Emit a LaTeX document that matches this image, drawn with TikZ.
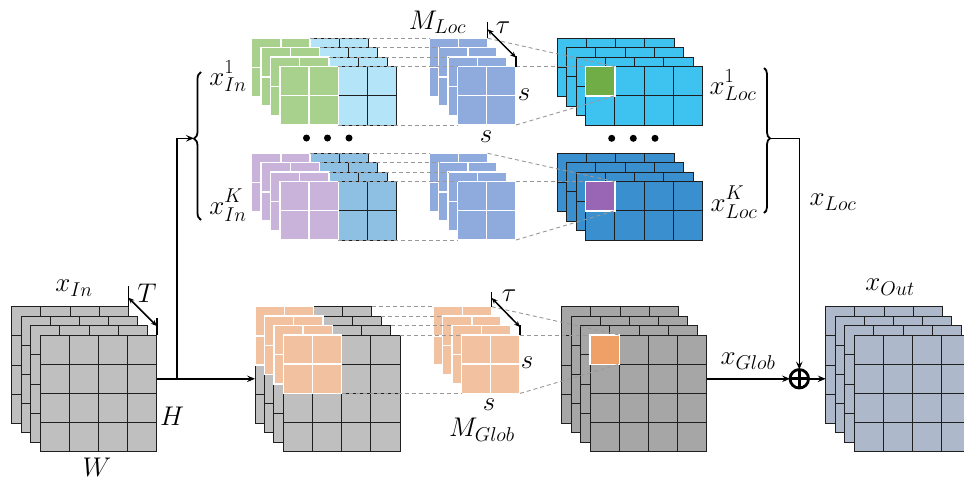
\RequirePackage{fix-cm}
\documentclass[tikz,border=0pt]{standalone}
\usetikzlibrary{arrows.meta,decorations.pathreplacing}
\DeclareMathSizes{27}{27}{20}{15}
\definecolor{gA}{HTML}{BFBFBF}
\definecolor{gB}{HTML}{A6A6A6}
\definecolor{peach}{HTML}{F2C19F}
\definecolor{orsq}{HTML}{EEA066}
\definecolor{grn}{HTML}{A9D18E}
\definecolor{lblue}{HTML}{B4E4F7}
\definecolor{lav}{HTML}{C9B3DB}
\definecolor{mblue}{HTML}{8EC0E4}
\definecolor{kblue}{HTML}{8FAADC}
\definecolor{cyanb}{HTML}{3EC2F0}
\definecolor{dblue}{HTML}{3A8FCE}
\definecolor{grsq}{HTML}{70AD47}
\definecolor{pusq}{HTML}{9966B5}
\definecolor{outc}{HTML}{ADB9CA}
\def\cs{29.2}
\newcommand\cellblock[6]{%
  \fill[#5] (#1,#2) rectangle ({#1+#3*\cs},{#2+#4*\cs});
  \foreach \k in {1,...,#3}{\ifnum\k<#3\relax \draw[#6] ({#1+\k*\cs},#2) -- ({#1+\k*\cs},{#2+#4*\cs});\fi}
  \foreach \k in {1,...,#4}{\ifnum\k<#4\relax \draw[#6] (#1,{#2+\k*\cs}) -- ({#1+#3*\cs},{#2+\k*\cs});\fi}
  \draw[#6] (#1,#2) rectangle ({#1+#3*\cs},{#2+#4*\cs});
}
\newcommand\supsub[3]{#1^{\raisebox{2pt}{$\scriptstyle #2$}}_{#3}}
\tikzset{
  gline/.style={draw=black!88,line width=0.9pt},
  wline/.style={draw=white,line width=1.4pt},
  conn/.style={line width=1.6pt,-{Stealth[length=8pt,width=6.5pt,inset=3pt]}},
  dimarrow/.style={line width=1.5pt,{Stealth[length=6pt,width=5pt,inset=2pt]}-{Stealth[length=6pt,width=5pt,inset=2pt]}},
  tickline/.style={line width=1.5pt},
  proj/.style={draw=black!40,line width=0.9pt,dash pattern=on 4pt off 3pt},
  lab/.style={font=\fontsize{27}{31}\selectfont,inner sep=0pt},
  dotnode/.style={circle,fill=black,inner sep=0pt,minimum size=7pt},
  bracestyle/.style={line width=1.8pt,decorate},
}
\begin{document}
\begin{tikzpicture}[x=1pt,y=-1pt]
\useasboundingbox (0,0) rectangle (964,480);
\clip (0,0) rectangle (964,480);
\fill[white] (0,0) rectangle (964,480);

% ---------- stack 1: x_In
\foreach \j in {0,...,3}{
  \pgfmathsetmacro\X{11.7+9.43*\j}\pgfmathsetmacro\Y{306.7+9.43*\j}
  \cellblock{\X}{\Y}{4}{4}{gA}{gline}
}
% ---------- stack 2: global patches
\foreach \j in {0,...,3}{
  \pgfmathsetmacro\X{255+9.43*\j}\pgfmathsetmacro\Y{306.7+9.43*\j}
  \cellblock{\X}{\Y}{4}{4}{gA}{gline}
  \cellblock{\X}{\Y}{2}{2}{peach}{wline}
}
% ---------- M_Glob
\foreach \j in {0,...,3}{
  \pgfmathsetmacro\X{433.3+9.43*\j}\pgfmathsetmacro\Y{306.7+9.43*\j}
  \cellblock{\X}{\Y}{2}{2}{peach}{wline}
}
% ---------- stack 3: x_Glob
\foreach \j in {0,...,3}{
  \pgfmathsetmacro\X{561.7+9.43*\j}\pgfmathsetmacro\Y{306.7+9.43*\j}
  \cellblock{\X}{\Y}{4}{4}{gB}{gline}
}
\cellblock{590}{335}{1}{1}{orsq}{wline}
% ---------- stack 4: x_Out
\foreach \j in {0,...,3}{
  \pgfmathsetmacro\X{825.7+9.43*\j}\pgfmathsetmacro\Y{306.7+9.43*\j}
  \cellblock{\X}{\Y}{4}{4}{outc}{gline}
}
% ---------- top: x_In^1 and x_In^K
\foreach \j in {0,...,3}{
  \pgfmathsetmacro\X{251.7+9.43*\j}\pgfmathsetmacro\Y{38.3+9.43*\j}
  \cellblock{\X}{\Y}{4}{2}{lblue}{gline}
  \cellblock{\X}{\Y}{2}{2}{grn}{wline}
  \pgfmathsetmacro\Y{153.3+9.43*\j}
  \cellblock{\X}{\Y}{4}{2}{mblue}{gline}
  \cellblock{\X}{\Y}{2}{2}{lav}{wline}
}
% ---------- M_Loc stacks
\foreach \j in {0,...,3}{
  \pgfmathsetmacro\X{429.3+9.43*\j}\pgfmathsetmacro\Y{38.3+9.43*\j}
  \cellblock{\X}{\Y}{2}{2}{kblue}{wline}
  \pgfmathsetmacro\Y{153.3+9.43*\j}
  \cellblock{\X}{\Y}{2}{2}{kblue}{wline}
}
% ---------- x_Loc stacks
\foreach \j in {0,...,3}{
  \pgfmathsetmacro\X{557.3+9.43*\j}\pgfmathsetmacro\Y{38.3+9.43*\j}
  \cellblock{\X}{\Y}{4}{2}{cyanb}{gline}
  \pgfmathsetmacro\Y{153.3+9.43*\j}
  \cellblock{\X}{\Y}{4}{2}{dblue}{gline}
}
\cellblock{585.6}{66.6}{1}{1}{grsq}{wline}
\cellblock{585.6}{181.6}{1}{1}{pusq}{wline}

% ---------- dashed projection lines
\foreach \j in {0,...,3}{
  \pgfmathsetmacro\A{251.7+9.43*\j+58.4}\pgfmathsetmacro\B{429.3+9.43*\j}
  \pgfmathsetmacro\Y{38.3+9.43*\j}\pgfmathsetmacro\Z{153.3+9.43*\j}
  \draw[proj] (\A,\Y) -- (\B,\Y);
  \draw[proj] (\A,\Z) -- (\B,\Z);
  \pgfmathsetmacro\C{255+9.43*\j+116.8}\pgfmathsetmacro\D{433.3+9.43*\j}
  \pgfmathsetmacro\W{306.7+9.43*\j}
  \draw[proj] (\C,\W) -- (\D,\W);
}
\draw[proj] (338.4,125) -- (457.6,125);
\draw[proj] (338.4,240) -- (457.6,240);
\draw[proj] (341.7,393.4) -- (461.6,393.4);
% to output pixel
\draw[proj] (487.7,38.3) -- (614.8,66.6);
\draw[proj] (516.0,66.6) -- (585.6,66.6);
\draw[proj] (516.0,125.0) -- (614.8,95.8);
\draw[proj] (487.7,153.3) -- (614.8,181.6);
\draw[proj] (516.0,181.6) -- (585.6,181.6);
\draw[proj] (516.0,240.0) -- (614.8,210.8);
\draw[proj] (491.7,306.7) -- (619.2,335);
\draw[proj] (520.0,335) -- (590,335);
\draw[proj] (520.0,393.4) -- (619.2,364.2);

% ---------- dimension marks
\draw[tickline] (128.5,286) -- (128.5,306.7);
\draw[tickline] (156.8,318) -- (156.8,335);
\draw[dimarrow] (128.5,297.7) -- (156.8,326);
\draw[tickline] (487.7,21.7) -- (487.7,38.3);
\draw[tickline] (516.0,56) -- (516.0,66.6);
\draw[dimarrow] (487.7,29.3) -- (516.0,57.6);
\draw[tickline] (491.7,292) -- (491.7,306.7);
\draw[tickline] (520.0,325) -- (520.0,335);
\draw[dimarrow] (491.7,298) -- (520.0,327);

% ---------- dots
\node[dotnode] (d1) at (306.5,138) {};
\node[dotnode] (d2) at (327.5,138) {};
\node[dotnode] (d3) at (349,138) {};
\node[dotnode] (d4) at (611.7,138.3) {};
\node[dotnode] (d5) at (633.3,138.3) {};
\node[dotnode] (d6) at (655,138.3) {};

% ---------- braces
\draw[bracestyle,decoration={brace,amplitude=7pt,aspect=0.55}] (201,220) -- (201,72);
\draw[bracestyle,decoration={brace,amplitude=6pt,aspect=0.485}] (764,68) -- (764,213);

% ---------- connectors
\coordinate (s1r) at (156.8,378.8);
\coordinate (br) at (176.7,378.8);
\coordinate (s2l) at (255,378.8);
\coordinate (lbt) at (194,138.3);
\coordinate (s3r) at (706.8,378.8);
\coordinate (s4l) at (825.7,378.8);
\coordinate (rbt) at (770,138.3);
\node[circle,draw,line width=2.8pt,minimum size=18.5pt,inner sep=0pt,outer sep=0pt] (plus) at (799.3,378.8) {};
\draw[line width=2.8pt] (plus.north) -- (plus.south) (plus.west) -- (plus.east);
\draw[conn] (s1r) -- (s2l);
\draw[conn] (br) |- (lbt);
\draw[conn] (s3r) -- (plus.west);
\draw[conn] (rbt) -| (plus.north);
\draw[conn] (plus.east) -- (s4l);

% ---------- labels
\node[lab] (lxin) at (74,288) {$x_{In}$};
\node[lab] (lT) at (147,293) {$T$};
\node[lab] (lH) at (172,416) {$H$};
\node[lab] (lW) at (97,467) {$W$};
\node[lab] (lxin1) at (228,76) {$\supsub{x}{1}{In}$};
\node[lab] (lxinK) at (228,205) {$\supsub{x}{K}{In}$};
\node[lab] (lMloc) at (437.5,22) {$M_{Loc}$};
\node[lab] (ltau1) at (503,28) {$\tau$};
\node[lab] (ls1) at (524,95) {$s$};
\node[lab] (ls2) at (486,137) {$s$};
\node[lab] (lxloc1) at (733,85) {$\supsub{x}{1}{Loc}$};
\node[lab] (lxlocK) at (734,202) {$\supsub{x}{K}{Loc}$};
\node[lab] (lxloc) at (833,202) {$x_{Loc}$};
\node[lab] (lxglob) at (748,361) {$x_{Glob}$};
\node[lab] (lMglob) at (482,430) {$M_{Glob}$};
\node[lab] (ltau2) at (509,296) {$\tau$};
\node[lab] (ls3) at (527,363) {$s$};
\node[lab] (ls4) at (489,405) {$s$};
\node[lab] (lxout) at (890,287) {$x_{Out}$};
\end{tikzpicture}
\end{document}
